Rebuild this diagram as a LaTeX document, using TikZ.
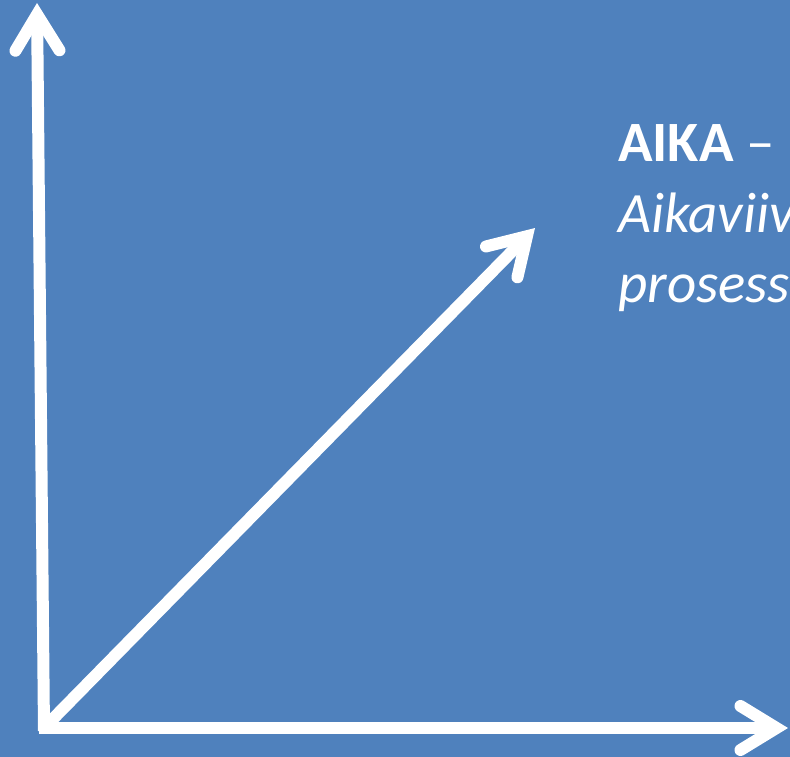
\documentclass[tikz,border=0pt]{standalone}
\usepackage{fontspec}
\setmainfont{Carlito}
\usetikzlibrary{arrows.meta}
\definecolor{slideblue}{RGB}{79,129,189}

\begin{document}
\begin{tikzpicture}[x=1pt,y=-1pt,
    axis/.style={white, line width=12pt,
        -{Straight Barb[length=36pt, width=44pt, line cap=round, line join=miter]}},
    label/.style={white, anchor=base west, inner sep=0pt, font=\fontsize{57}{70}\selectfont}]
    % Background
    \fill[slideblue] (0,0) rectangle (790,757);
    \useasboundingbox (0,0) rectangle (790,757);

    % Axes
    \coordinate (origin) at (44,728);
    \coordinate (ytip) at (37,3);
    \coordinate (xtip) at (788,728);
    \coordinate (dtip) at (535,228);
    \draw[axis] (44,731) -- (ytip);
    \draw[axis] (39,728) -- (xtip);
    \draw[axis] (origin) -- (dtip);

    % Text
    \node[label] (title) at (618,162) {\textbf{AIKA} –};
    \node[label] (line1) at (618,232) {\itshape Aikaviiva};
    \node[label] (line2) at (618,302) {\itshape prosessi};
\end{tikzpicture}
\end{document}
